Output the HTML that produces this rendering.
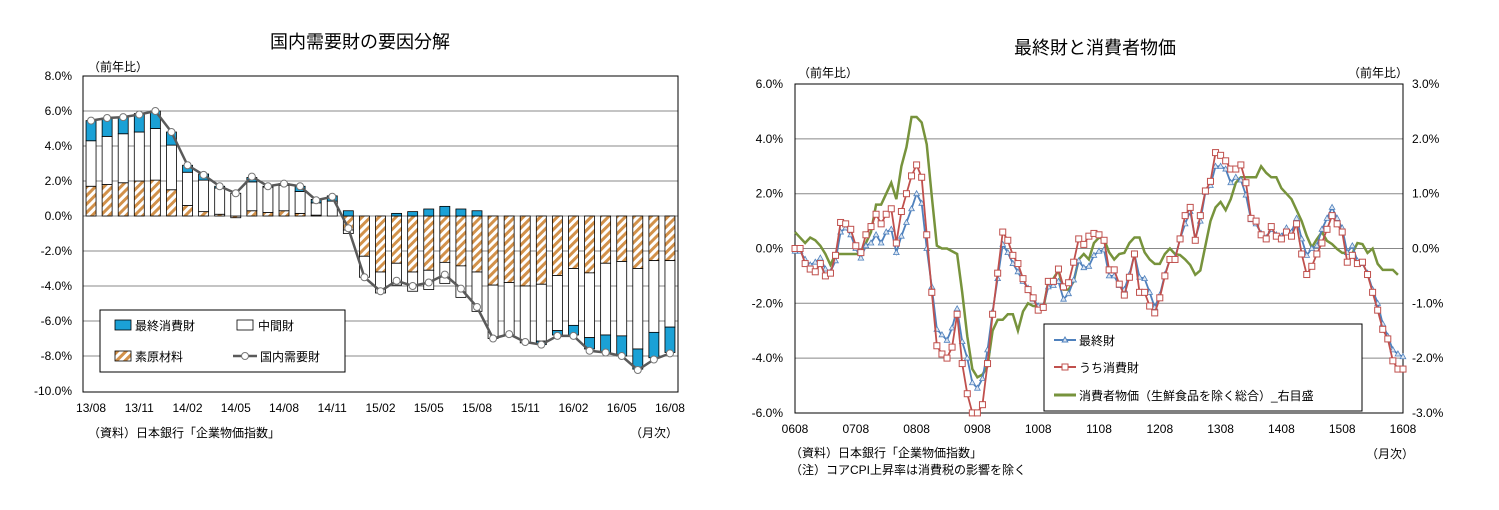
<!DOCTYPE html>
<html><head><meta charset="utf-8"><style>
body{margin:0;background:#fff;}
svg{display:block;font-family:"Liberation Sans","Noto Sans CJK JP",sans-serif;}
</style></head><body>
<svg id="svg" width="1499" height="510" viewBox="0 0 1499 510">
<defs>
<pattern id="hatch" patternUnits="userSpaceOnUse" width="6" height="6" patternTransform="rotate(45)">
<rect width="6" height="6" fill="#fff"/><rect width="3" height="6" fill="#d2914a"/>
</pattern>
</defs>
<g id="left">
<text x="360" y="48" font-size="18" text-anchor="middle">国内需要財の要因分解</text>
<text x="88" y="71" font-size="12">（前年比）</text>
<text x="88" y="437" font-size="12">（資料）日本銀行「企業物価指数」</text>
<text x="630" y="437" font-size="12">（月次）</text>
</g>
<g id="right">
<text x="1095" y="54" font-size="18" text-anchor="middle">最終財と消費者物価</text>
<text x="798" y="77" font-size="12">（前年比）</text>
<text x="1348" y="77" font-size="12">（前年比）</text>
<text x="790" y="457" font-size="12">（資料）日本銀行「企業物価指数」</text>
<text x="790" y="474" font-size="12">（注）コアCPI上昇率は消費税の影響を除く</text>
<text x="1366" y="458" font-size="12">（月次）</text>
</g>
</svg>
<script>
// ---- left chart data ----
const lCats = ["13/08","13/09","13/10","13/11","13/12","14/01","14/02","14/03","14/04","14/05","14/06","14/07","14/08","14/09","14/10","14/11","14/12","15/01","15/02","15/03","15/04","15/05","15/06","15/07","15/08","15/09","15/10","15/11","15/12","16/01","16/02","16/03","16/04","16/05","16/06","16/07","16/08"];
const rawMat = [1.7,1.8,1.9,2.0,2.05,1.5,0.6,0.25,0.1,-0.1,0.3,0.2,0.3,0.15,0.05,0,-0.8,-2.3,-3.2,-2.7,-3.2,-3.1,-2.65,-2.85,-3.2,-3.95,-3.8,-4.0,-3.9,-3.4,-3.0,-3.25,-2.7,-2.6,-3.0,-2.55,-2.55];
const interGoods = [2.6,2.75,2.8,2.8,2.95,2.55,1.9,1.8,1.5,1.3,1.65,1.45,1.45,1.25,0.7,0.85,-0.2,-1.2,-1.2,-1.25,-1.1,-1.1,-1.2,-1.8,-2.25,-3.05,-3.0,-3.25,-3.25,-3.15,-3.25,-3.7,-4.1,-4.25,-4.6,-4.1,-3.8];
const finalCons = [1.15,1.05,0.95,1.05,1.0,0.75,0.4,0.35,0.1,0,0.25,0.05,0.1,0.3,0.2,0.3,0.3,0,0,0.15,0.25,0.4,0.55,0.4,0.3,0,0,0,-0.2,-0.25,-0.55,-0.65,-1.0,-1.15,-1.15,-1.45,-1.45];
const domTotal = [5.45,5.6,5.65,5.8,6.0,4.8,2.9,2.35,1.7,1.3,2.25,1.7,1.85,1.7,0.9,1.1,-0.7,-3.5,-4.3,-3.7,-4.0,-3.8,-3.35,-4.15,-5.2,-7.0,-6.75,-7.2,-7.35,-6.85,-6.85,-7.7,-7.8,-8.0,-8.8,-8.2,-7.85];
const lTicks = [8,6,4,2,0,-2,-4,-6,-8,-10];

// ---- right chart data ----
const rCatLabels = ["0608","0708","0808","0908","1008","1108","1208","1308","1408","1508","1608"];
const finalGoods = [-0.1,-0.1,-0.4,-0.6,-0.5,-0.35,-0.75,-0.85,-0.45,0.6,0.75,0.5,0,-0.35,0.1,0.2,0.5,0.2,0.6,0.7,-0.15,0.45,0.95,1.45,2.0,1.65,0,-1.4,-2.95,-3.15,-3.35,
-2.9,-2.2,-3.4,-4.0,-4.9,-5.1,-4.75,-3.7,-2.3,-1.1,0.15,-0.15,-0.55,-0.85,-1.2,-1.45,-1.85,-2.1,-2.1,-1.4,-1.35,-1.2,-1.85,-1.65,-1.15,-0.45,-0.7,-0.65,-0.25,
-0.1,-0.05,-1.0,-1.0,-1.35,-1.5,-0.95,-0.2,-1.05,-1.1,-1.6,-2.15,-1.7,-0.95,-0.4,-0.35,0.35,0.9,1.35,0.35,1.0,2.05,2.3,3.0,3.0,2.9,2.4,2.6,2.5,1.95,1.05,
0.9,0.55,0.4,0.7,0.5,0.45,0.75,0.6,1.1,0.35,-0.25,0,0.1,0.7,1.1,1.5,1.1,0.75,-0.15,0.1,-0.45,-0.55,-0.9,-1.5,-2.0,-2.75,-3.2,-3.7,-3.85,-3.95];
const consGoods = [0,0,-0.55,-0.75,-0.85,-0.55,-1.0,-0.9,-0.25,0.95,0.9,0.7,0.1,-0.15,0.5,0.8,1.25,0.9,1.25,1.45,0.2,1.35,2.0,2.65,3.05,2.6,0.5,-1.6,-3.55,-3.85,-4.0,
-3.6,-2.4,-4.2,-5.3,-6.0,-6.0,-5.7,-4.2,-2.4,-0.9,0.6,0.3,-0.25,-0.55,-1.1,-1.5,-1.8,-2.25,-2.15,-1.2,-1.2,-0.75,-1.4,-1.25,-0.5,0.35,0.15,0.45,0.55,
0.5,0.3,-0.78,-0.78,-1.3,-1.7,-1.05,-0.2,-1.6,-1.6,-2.1,-2.35,-1.8,-1.0,-0.4,-0.4,0.35,1.2,1.5,0.3,1.2,2.1,2.45,3.5,3.4,3.2,2.9,2.9,3.05,2.4,1.1,
1.0,0.5,0.35,0.8,0.45,0.35,0.6,0.45,0.9,-0.2,-0.95,-0.65,-0.2,0.2,0.7,1.2,0.9,0.6,-0.5,-0.25,-0.55,-0.5,-0.95,-1.6,-2.25,-2.95,-3.3,-4.1,-4.4,-4.4];
const coreCpi = [0.3,0.2,0.1,0.2,0.15,0.05,-0.1,-0.3,-0.1,-0.1,-0.1,-0.1,-0.1,-0.1,0.1,0.3,0.8,0.8,1.0,1.2,0.9,1.5,1.85,2.4,2.4,2.3,1.9,0.95,0.05,0,0,
-0.05,-0.1,-0.8,-1.6,-2.2,-2.35,-2.3,-2.15,-1.5,-1.3,-1.3,-1.2,-1.2,-1.5,-1.15,-1.0,-1.05,-1.05,-1.1,-0.6,-0.55,-0.4,-0.75,-0.75,-0.6,-0.2,-0.1,-0.2,0.1,
0.2,0.17,-0.07,-0.2,-0.1,-0.08,0.1,0.2,0.2,-0.07,-0.2,-0.28,-0.28,-0.1,0,-0.1,-0.12,-0.2,-0.3,-0.48,-0.4,0.05,0.5,0.75,0.85,0.7,0.9,1.2,1.3,1.3,1.3,
1.3,1.5,1.38,1.3,1.3,1.1,1.0,0.9,0.7,0.5,0.23,0.02,0.17,0.3,0.14,0.08,-0.01,-0.08,-0.08,-0.09,0.1,0.08,-0.08,0,-0.28,-0.39,-0.39,-0.39,-0.48];
const rTicksL = [6,4,2,0,-2,-4,-6];
const rTicksR = [3,2,1,0,-1,-2,-3];

const NS="http://www.w3.org/2000/svg";
function mk(parent,tag,attrs,txt){const e=document.createElementNS(NS,tag);for(const k in attrs)e.setAttribute(k,attrs[k]);if(txt!==undefined)e.textContent=txt;parent.appendChild(e);return e;}
const gL=document.getElementById('left'), gR=document.getElementById('right');

// ---- left chart ----
const L={x0:83,x1:678,y0:76,y1:392};
const ly=v=>216-v*17.5;
const lstep=(L.x1-L.x0)/lCats.length;
const lx=i=>L.x0+(i+0.5)*lstep;
lTicks.forEach(t=>{
  if(t!==8&&t!==-10){const gl=mk(gL,'line',{x1:L.x0,x2:L.x1,y1:ly(t),y2:ly(t),stroke:'#888','stroke-width':1});
  
  }
  const tx=mk(gL,'text',{x:72,y:ly(t)+4,'font-size':12,'text-anchor':'end'},t.toFixed(1)+'%');
  
  
});
const lb=mk(gL,'rect',{x:L.x0,y:L.y0,width:L.x1-L.x0,height:L.y1-L.y0,fill:'none',stroke:'#000','stroke-width':1});


const bw=10;
lCats.forEach((c,i)=>{
  let pos=0,neg=0;
  const parts=[[rawMat[i],'url(#hatch)','bar-raw-materials'],[interGoods[i],'#fff','bar-intermediate'],[finalCons[i],'#1ba1d6','bar-final-consumer']];
  parts.forEach(p=>{
    const v=p[0]; if(v===0)return;
    let a,b; if(v>0){a=pos;b=pos+v;pos=b;}else{a=neg;b=neg+v;neg=b;}
    const r=mk(gL,'rect',{x:lx(i)-bw/2,y:Math.min(ly(a),ly(b)),width:bw,height:Math.abs(ly(a)-ly(b)),fill:p[1],stroke:'#000','stroke-width':0.8});
    
    
  });
  if(i%3===0){const t=mk(gL,'text',{x:lx(i),y:412,'font-size':12,'text-anchor':'middle'},c);
  
  }
});
const lp=mk(gL,'polyline',{points:domTotal.map((v,i)=>lx(i)+','+ly(v)).join(' '),fill:'none',stroke:'#5a5a5a','stroke-width':2.5});


domTotal.forEach((v,i)=>{const c=mk(gL,'circle',{cx:lx(i),cy:ly(v),r:3.5,fill:'#fff',stroke:'#777','stroke-width':1});

});
// left legend
const lg=mk(gL,'g',{});


mk(lg,'rect',{x:100,y:310,width:245,height:62,fill:'#fff',stroke:'#000'});
mk(lg,'rect',{x:115,y:320,width:16,height:10,fill:'#1ba1d6',stroke:'#000','stroke-width':0.8});
mk(lg,'text',{x:135,y:330,'font-size':12},'最終消費財');
mk(lg,'rect',{x:237,y:320,width:16,height:10,fill:'#fff',stroke:'#000','stroke-width':0.8});
mk(lg,'text',{x:258,y:330,'font-size':12},'中間財');
mk(lg,'rect',{x:115,y:351,width:16,height:10,fill:'url(#hatch)',stroke:'#000','stroke-width':0.8});
mk(lg,'text',{x:135,y:361,'font-size':12},'素原材料');
mk(lg,'line',{x1:233,x2:257,y1:356,y2:356,stroke:'#5a5a5a','stroke-width':2.5});
mk(lg,'circle',{cx:245,cy:356,r:3.5,fill:'#fff',stroke:'#777'});
mk(lg,'text',{x:260,y:361,'font-size':12},'国内需要財');

// ---- right chart ----
const R={x0:795,x1:1403,y0:84,y1:413};
const ry=v=>248.5-v*27.4;
const ry2=v=>248.5-v*54.8;
const rx=i=>R.x0+i*(R.x1-R.x0)/120;
rTicksL.forEach((t,k)=>{
  if(t!==6&&t!==-6){const gl=mk(gR,'line',{x1:R.x0,x2:R.x1,y1:ry(t),y2:ry(t),stroke:'#888','stroke-width':1});
  
  }
  const tx=mk(gR,'text',{x:783,y:ry(t)+4,'font-size':12,'text-anchor':'end'},t.toFixed(1)+'%');
  
  
});
rTicksR.forEach(t=>{
  const tx=mk(gR,'text',{x:1412,y:ry2(t)+4,'font-size':12},t.toFixed(1)+'%');
  
  
});
const rb=mk(gR,'rect',{x:R.x0,y:R.y0,width:R.x1-R.x0,height:R.y1-R.y0,fill:'none',stroke:'#000','stroke-width':1});


rCatLabels.forEach((c,k)=>{const t=mk(gR,'text',{x:rx(k*12),y:433,'font-size':12,'text-anchor':'middle'},c);

});
const gp=mk(gR,'polyline',{points:coreCpi.map((v,i)=>rx(i)+','+ry2(v)).join(' '),fill:'none',stroke:'#77933c','stroke-width':2.5});


const bp=mk(gR,'polyline',{points:finalGoods.map((v,i)=>rx(i)+','+ry(v)).join(' '),fill:'none',stroke:'#4f81bd','stroke-width':1.8});


finalGoods.forEach((v,i)=>{const x=rx(i),y=ry(v);const p=mk(gR,'polygon',{points:`${x},${y-3} ${x-2.8},${y+2} ${x+2.8},${y+2}`,fill:'#dbe5f1',stroke:'#4f81bd','stroke-width':0.8});

});
const cp=mk(gR,'polyline',{points:consGoods.map((v,i)=>rx(i)+','+ry(v)).join(' '),fill:'none',stroke:'#c0504d','stroke-width':1.8});


consGoods.forEach((v,i)=>{const p=mk(gR,'rect',{x:rx(i)-3,y:ry(v)-3,width:6,height:6,fill:'#fff',stroke:'#c0504d','stroke-width':1});

});
// right legend
const rl=mk(gR,'g',{});


mk(rl,'rect',{x:1044,y:324,width:318,height:87,fill:'#fff',stroke:'#000'});
mk(rl,'line',{x1:1054,x2:1076,y1:340,y2:340,stroke:'#4f81bd','stroke-width':2});
mk(rl,'polygon',{points:'1065,337 1062.2,342 1067.8,342',fill:'#dbe5f1',stroke:'#4f81bd'});
mk(rl,'text',{x:1079,y:345,'font-size':12},'最終財');
mk(rl,'line',{x1:1054,x2:1076,y1:367,y2:367,stroke:'#c0504d','stroke-width':2});
mk(rl,'rect',{x:1062,y:364,width:6,height:6,fill:'#fff',stroke:'#c0504d'});
mk(rl,'text',{x:1079,y:372,'font-size':12},'うち消費財');
mk(rl,'line',{x1:1054,x2:1076,y1:395,y2:395,stroke:'#77933c','stroke-width':3});
mk(rl,'text',{x:1079,y:400,'font-size':12},'消費者物価（生鮮食品を除く総合）_右目盛');
</script>
</body></html>
